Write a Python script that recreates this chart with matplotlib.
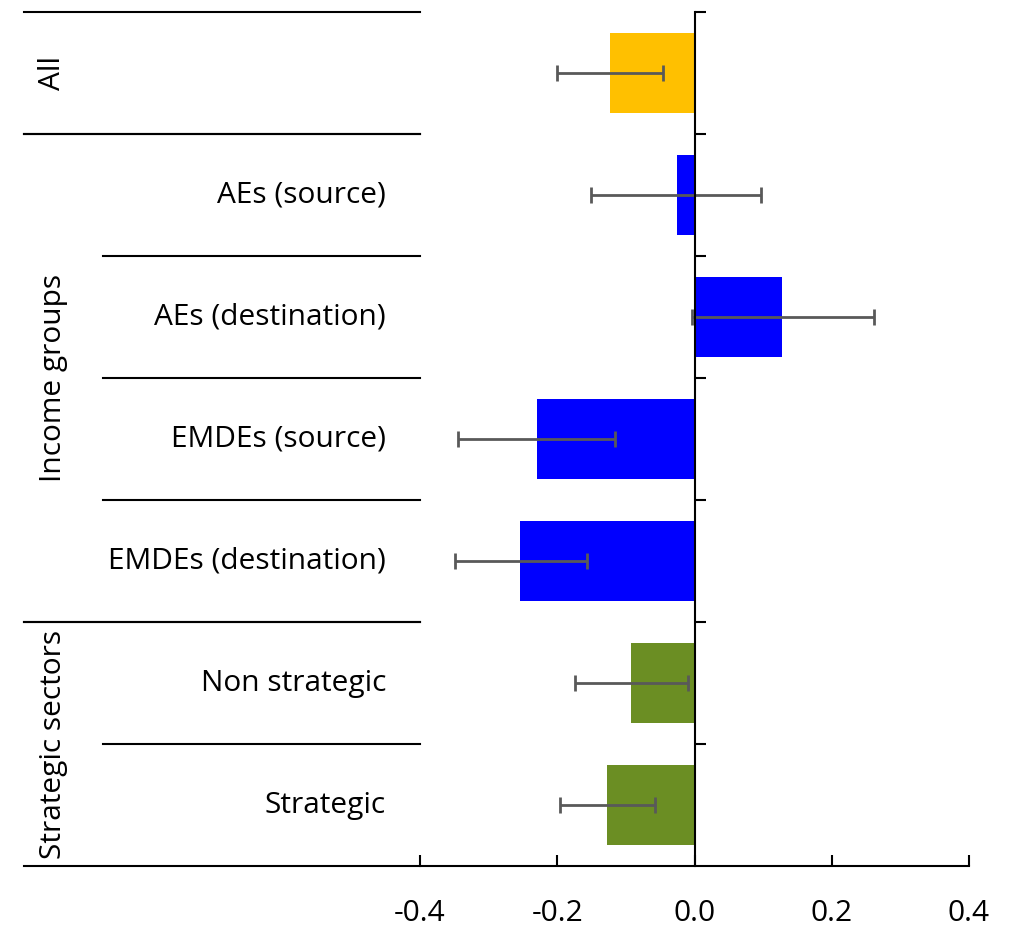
import matplotlib.pyplot as plt
from matplotlib.lines import Line2D

plt.rcParams['font.family'] = ['Open Sans', 'DejaVu Sans']

# Coefficient estimates with confidence bands
categories = ["All", "AEs (source)", "AEs (destination)", "EMDEs (source)",
              "EMDEs (destination)", "Non strategic", "Strategic"]
values = [-0.123, -0.026, 0.128, -0.229, -0.254, -0.092, -0.127]
lower = [-0.200, -0.151, -0.004, -0.345, -0.349, -0.174, -0.196]
upper = [-0.046, 0.097, 0.262, -0.116, -0.157, -0.009, -0.058]
colors = ["#FFC000", "#0000FF", "#0000FF", "#0000FF", "#0000FF", "#6B8E23", "#6B8E23"]

groups = ["All", "Income groups", "Strategic sectors"]
group_spans = [(0, 0), (1, 4), (5, 6)]
x_ticks = [-0.4, -0.2, 0.0, 0.2, 0.4]

W, H = 1010, 927
fig = plt.figure(figsize=(W / 100, H / 100), dpi=100)
ax = fig.add_axes([420 / W, (H - 866) / H, 549 / W, 854 / H])

ypos = list(range(len(categories)))
xerr = [[v - lo for v, lo in zip(values, lower)], [hi - v for v, hi in zip(values, upper)]]
ax.barh(ypos, values, height=0.66, color=colors, zorder=2)
ax.errorbar(values, ypos, xerr=xerr, fmt='none', ecolor='#595959',
            elinewidth=2, capsize=5.5, capthick=2, zorder=3)

ax.set_xlim(-0.4, 0.4)
ax.set_ylim(len(categories) - 0.5, -0.5)

# zero line acts as the y axis, with ticks on the row boundaries
for s in ['top', 'right']:
    ax.spines[s].set_visible(False)
ax.spines['left'].set_position(('data', 0))
ax.spines['left'].set_linewidth(1.5)
ax.spines['bottom'].set_linewidth(1.5)
ax.spines['left'].set_zorder(4)
ax.set_yticks([i - 0.5 for i in range(len(categories))])
ax.set_yticklabels([])
ax.tick_params(axis='y', direction='in', length=8, width=1.5)
ax.set_xticks(x_ticks)
ax.set_xticklabels([f"{t:.1f}" for t in x_ticks], fontsize=21.5)
ax.tick_params(axis='x', direction='in', length=8, width=1.5, pad=24)

# row label panel to the left of the plot
x_left = (24 - 420) / 549
x_inner = (103 - 420) / 549
x_label = (386 - 420) / 549
x_group = (53 - 420) / 549
tr = ax.get_yaxis_transform()
for i, cat in enumerate(categories):
    if cat != "All":
        ax.text(x_label, i, cat, transform=tr, ha='right', va='center',
                fontsize=21.5, clip_on=False)

for name, (a, b) in zip(groups, group_spans):
    ax.text(x_group, (a + b) / 2, name, transform=tr, rotation=90,
            ha='center', va='center', fontsize=21.5, clip_on=False)
    for y in (a - 0.5, b + 0.5):
        ax.add_line(Line2D([x_left, 0], [y, y], transform=tr, color='black',
                           lw=1.5, clip_on=False))
    for i in range(a + 1, b + 1):
        ax.add_line(Line2D([x_inner, 0], [i - 0.5, i - 0.5], transform=tr,
                           color='black', lw=1.5, clip_on=False))

fig.savefig("out.png", dpi=100)
